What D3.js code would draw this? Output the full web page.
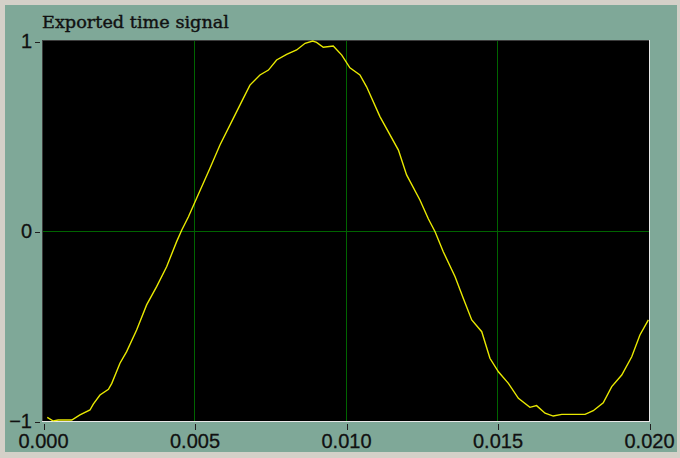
<!DOCTYPE html>
<html><head><meta charset="utf-8">
<script src="https://cdn.jsdelivr.net/npm/d3@7"></script>
<style>html,body{margin:0;padding:0;background:#d4d0c8;}svg{display:block;}</style>
</head><body>
<script>
const title = "Exported time signal";
const xTicks = [0.000, 0.005, 0.010, 0.015, 0.020];
const yTicks = [-1, 0, 1];
const xGrid = [0.005, 0.010, 0.015];
const yGrid = [0];
const time = [0.00014,0.00034,0.00050,0.00095,0.00122,0.00155,0.00166,0.00188,0.00216,0.00227,0.00254,0.00276,0.00309,0.00342,0.00375,0.00408,0.00441,0.00458,0.00480,0.00507,0.00551,0.00584,0.00628,0.00661,0.00683,0.00716,0.00744,0.00771,0.00804,0.00837,0.00865,0.00890,0.00903,0.00925,0.00958,0.00986,0.01013,0.01046,0.01068,0.01112,0.01173,0.01200,0.01244,0.01272,0.01294,0.01321,0.01360,0.01387,0.01415,0.01448,0.01475,0.01503,0.01536,0.01569,0.01607,0.01629,0.01657,0.01684,0.01712,0.01789,0.01816,0.01849,0.01877,0.01910,0.01943,0.01970,0.01998];
const signal = [-0.981,-1.0,-0.995,-0.995,-0.968,-0.942,-0.911,-0.863,-0.833,-0.802,-0.696,-0.635,-0.521,-0.389,-0.293,-0.188,-0.056,0.005,0.075,0.172,0.330,0.453,0.593,0.698,0.768,0.821,0.847,0.900,0.930,0.953,0.988,1.0,0.993,0.967,0.974,0.926,0.859,0.821,0.759,0.602,0.426,0.295,0.163,0.063,-0.004,-0.109,-0.241,-0.354,-0.468,-0.530,-0.670,-0.741,-0.802,-0.881,-0.928,-0.919,-0.959,-0.974,-0.965,-0.965,-0.946,-0.904,-0.819,-0.758,-0.662,-0.547,-0.468];

const W = 680, H = 458;
const L = 43, R = 649, T = 41, B = 421;
const svg = d3.select("body").append("svg").attr("width", W).attr("height", H);

svg.append("rect").attr("x",0).attr("y",0).attr("width",W).attr("height",H).attr("fill","#d4d0c8");
svg.append("rect").attr("x",5).attr("y",5).attr("width",672).attr("height",447).attr("fill","#7fa898");

const x = d3.scaleLinear().domain([0, 0.020]).range([L, R]);
const y = d3.scaleLinear().domain([-1, 1]).range([B, T]);

svg.append("rect").attr("x",L).attr("y",T).attr("width",R-L).attr("height",B-T).attr("fill","#000");
svg.append("path").attr("d",`M${L-0.5},${B}V${T-0.5}H${R}`).attr("stroke","#3c3c3c").attr("fill","none").attr("stroke-width",1).attr("shape-rendering","crispEdges");
svg.append("path").attr("d",`M${L-1},${B+0.5}H${R+0.5}V${T-1}`).attr("stroke","#e8e8e8").attr("fill","none").attr("stroke-width",1).attr("shape-rendering","crispEdges");

const g = svg.append("g").attr("shape-rendering","crispEdges");
g.selectAll("line.vg").data(xGrid).join("line").attr("class","vg")
  .attr("x1",d=>Math.floor(x(d))+0.5).attr("x2",d=>Math.floor(x(d))+0.5)
  .attr("y1",T).attr("y2",B).attr("stroke","#006400").attr("stroke-width",1);
g.selectAll("line.hg").data(yGrid).join("line").attr("class","hg")
  .attr("y1",d=>Math.floor(y(d))+0.5).attr("y2",d=>Math.floor(y(d))+0.5)
  .attr("x1",L).attr("x2",R).attr("stroke","#006400").attr("stroke-width",1);

const pts = time.map((t,i)=>[t, signal[i]]);
svg.append("defs").append("clipPath").attr("id","clip").append("rect")
  .attr("x",L).attr("y",T-1).attr("width",R-L).attr("height",B-T+1.5);
svg.append("path").datum(pts).attr("clip-path","url(#clip)")
  .attr("d", d3.line().x(d=>x(d[0])).y(d=>y(d[1])))
  .attr("fill","none").attr("stroke","#e8e800").attr("stroke-width",1.4);

const xa = svg.append("g").attr("transform",`translate(0,${B+3})`)
  .call(d3.axisBottom(x).tickValues(xTicks).tickFormat(d3.format(".3f")).tickSizeOuter(0).tickSize(6).tickPadding(4));
xa.select(".domain").remove();
xa.selectAll("line").attr("stroke","#202020").attr("transform","translate(0.5,0)").attr("shape-rendering","crispEdges");
xa.selectAll("text").attr("fill","#111").attr("stroke","#111").attr("stroke-width",0.3)
  .style("font-family","Liberation Sans, Arial, sans-serif").style("font-size","20px");

const ya = svg.append("g").attr("transform",`translate(${L-3},0)`)
  .call(d3.axisLeft(y).tickValues(yTicks).tickFormat(d3.format("d")).tickSizeOuter(0).tickSize(5).tickPadding(3));
ya.select(".domain").remove();
ya.selectAll("line").attr("stroke","#202020").attr("transform","translate(0,0.5)").attr("shape-rendering","crispEdges");
ya.selectAll("text").attr("fill","#111").attr("stroke","#111").attr("stroke-width",0.3)
  .style("font-family","Liberation Sans, Arial, sans-serif").style("font-size","20px");

svg.append("text").attr("x",42).attr("y",28).text(title)
  .attr("textLength",187).attr("lengthAdjust","spacingAndGlyphs")
  .attr("stroke","#111").attr("stroke-width",0.4)
  .style("font-family","DejaVu Serif, Liberation Serif, serif").style("font-size","17px").attr("fill","#111");
</script>
</body></html>
